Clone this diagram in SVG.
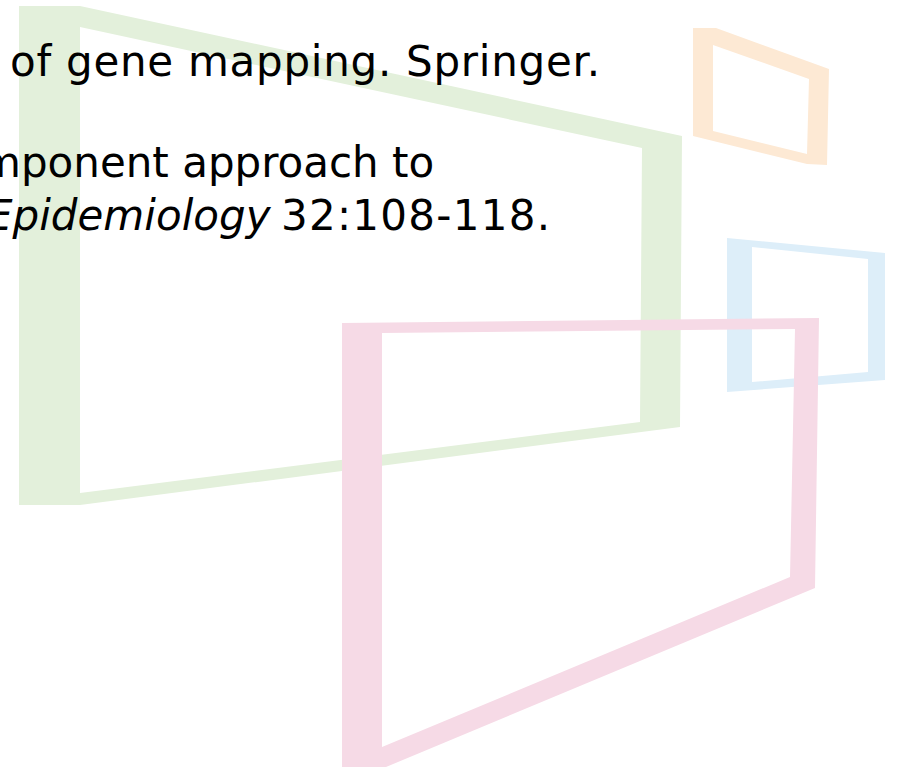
<svg xmlns="http://www.w3.org/2000/svg" width="901" height="768" viewBox="0 0 901 768">
  <style>
    .frame { fill-rule: evenodd; stroke: none; }
    .ref { font-family: "DejaVu Sans", Verdana, "Liberation Sans", sans-serif; font-size: 42px; fill: #000000; }
    .it { font-style: italic; }
  </style>
  <rect x="0" y="0" width="901" height="768" fill="#ffffff"/>
  <g id="green-frame">
    <path class="frame" fill="#e3f0db" d="M19,6 L80,6 L682,136 L680,427 L80,505 L19,505 Z M80,27 L642,148 L640,422 L80,493 Z"/>
  </g>
  <g id="orange-frame">
    <path class="frame" fill="#fde9d4" d="M693,28 L716,28 L829,69 L827,165 L807,164 L693,136 Z M713,45 L809,79 L807,154 L713,131 Z"/>
  </g>
  <g id="blue-frame">
    <path class="frame" fill="#ddeef9" d="M727,238 L885,253 L885,380 L727,392 Z M752,247 L868,259 L868,372 L752,382 Z"/>
  </g>
  <g id="pink-frame">
    <path class="frame" fill="#f6dae6" d="M342,323 L819,318 L815,588 L386,767 L342,767 Z M382,333 L795,329 L790,577 L382,747 Z"/>
  </g>
  <g id="references">
    <text class="ref" x="10" y="76" textLength="590" lengthAdjust="spacing">of gene mapping. Springer.</text>
    <text class="ref" x="-20" y="177">mponent approach to</text>
    <text class="ref it" x="-14" y="230">Epidemiology</text>
    <text class="ref" x="281" y="230" textLength="269" lengthAdjust="spacing">32:108-118.</text>
  </g>
</svg>
